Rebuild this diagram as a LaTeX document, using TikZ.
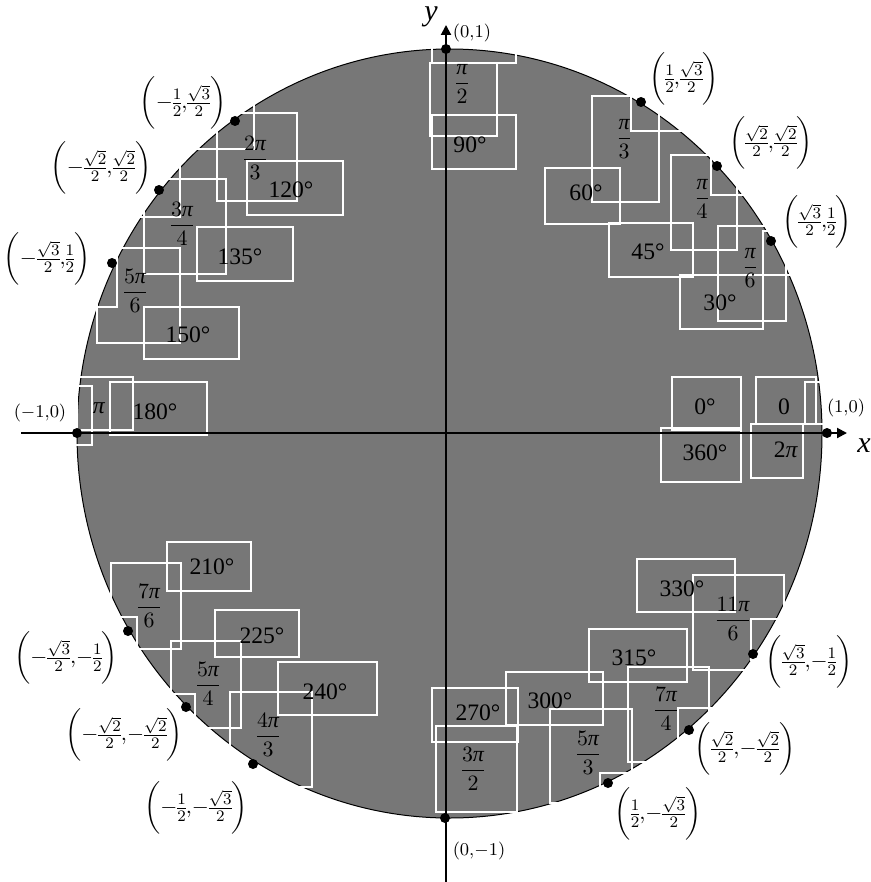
\documentclass[tikz,border=0pt]{standalone}
\usepackage{amsmath}
\usepackage{fontspec}
\setmainfont{Liberation Serif}
\usetikzlibrary{arrows.meta}
\definecolor{disk}{RGB}{119,119,119}
\newcommand\piit{\text{\itshape π}}
\newcommand\rfr[2]{$\dfrac{#1}{#2}$}
\newcommand\crd[2]{$\nulldelimiterspace=0pt\biggl(#1{,}#2\biggr)$}
\begin{document}
\begin{tikzpicture}[x=0.5pt,y=-0.5pt,
  bx/.style={draw=white,line width=0.6pt},
  dotn/.style={circle,fill=black,inner sep=0,minimum size=5pt},
  lb/.style={inner sep=0,font=\fontsize{11}{13}\selectfont},
  dg/.style={inner sep=0,font=\fontsize{11.8}{14}\selectfont},
  sm/.style={inner sep=0,font=\fontsize{9}{11}\selectfont},
  ax/.style={line width=1pt,-{Triangle[length=5pt,width=5pt]}},
  axl/.style={inner sep=0,font=\fontsize{15}{17}\selectfont\itshape}]
\useasboundingbox (0,0) rectangle (871,882);
\fill[disk] (449.5,433.5) ellipse [x radius=372.5, y radius=384.5];
\draw[line width=0.5pt] (449.5,433.5) ellipse [x radius=372.5, y radius=384.5];
% label boxes
% 90
\draw[bx] (432,30) rectangle (516,63);
\draw[bx] (430,63) rectangle (497,136);
\draw[bx] (432,115) rectangle (516,169);
% 60
\draw[bx] (631,96) rectangle (690,131);
\draw[bx] (592,96) rectangle (659,202);
\draw[bx] (545,168) rectangle (620,224);
% 45
\draw[bx] (711,155) rectangle (765,195);
\draw[bx] (671,155) rectangle (737,250);
\draw[bx] (609,223) rectangle (693,277);
% 30
\draw[bx] (763,231) rectangle (810,275);
\draw[bx] (718,226) rectangle (786,321);
\draw[bx] (680,275) rectangle (763,329);
% 0
\draw[bx] (805,382) rectangle (850,424);
\draw[bx] (756,377) rectangle (816,424);
\draw[bx] (672,377) rectangle (741,430);
\draw[bx] (661,428) rectangle (741,482);
\draw[bx] (751,424) rectangle (803,478);
% 180
\draw[bx] (75,386) rectangle (92,445);
\draw[bx] (77,377) rectangle (133,430);
\draw[bx] (110,382) rectangle (207,435);
% 150
\draw[bx] (70,230) rectangle (117,307);
\draw[bx] (97,248) rectangle (180,343);
\draw[bx] (144,307) rectangle (239,359);
% 135
\draw[bx] (130,165) rectangle (180,217);
\draw[bx] (144,179) rectangle (226,274);
\draw[bx] (197,227) rectangle (293,281);
% 120
\draw[bx] (195,100) rectangle (254,149);
\draw[bx] (217,113) rectangle (297,201);
\draw[bx] (247,161) rectangle (343,215);
% 210
\draw[bx] (90,617) rectangle (137,660);
\draw[bx] (111,563) rectangle (181,649);
\draw[bx] (167,542) rectangle (251,591);
% 225
\draw[bx] (150,694) rectangle (195,740);
\draw[bx] (171,641) rectangle (241,728);
\draw[bx] (215,610) rectangle (299,657);
% 240
\draw[bx] (230,692) rectangle (312,787);
\draw[bx] (278,662) rectangle (377,715);
% 270
\draw[bx] (432,688) rectangle (518,742);
\draw[bx] (436,726) rectangle (517,812);
% 300
\draw[bx] (506,672) rectangle (603,725);
\draw[bx] (550,709) rectangle (632,803);
\draw[bx] (600,773) rectangle (640,810);
% 315
\draw[bx] (589,629) rectangle (687,682);
\draw[bx] (628,667) rectangle (709,762);
\draw[bx] (678,708) rectangle (720,745);
% 330
\draw[bx] (637,559) rectangle (735,612);
\draw[bx] (693,575) rectangle (784,670);
\draw[bx] (751,619) rectangle (800,660);
% axes
\coordinate (xl) at (21,433);
\coordinate (xr) at (847,433);
\coordinate (yb) at (446,882);
\coordinate (yt) at (446,25);
\draw[ax] (xl) -- (xr);
\draw[ax] (yb) -- (yt);
\node[axl] (xlab) at (864,446) {x};
\node[axl] (ylab) at (431,17) {y};
% points
\node[dotn] (d0) at (827,433) {};
\node[dotn] (d30) at (771,241) {};
\node[dotn] (d45) at (717,166) {};
\node[dotn] (d60) at (641,102) {};
\node[dotn] (d90) at (446,49) {};
\node[dotn] (d120) at (235,121) {};
\node[dotn] (d135) at (159,190) {};
\node[dotn] (d150) at (112,263) {};
\node[dotn] (d180) at (77,433) {};
\node[dotn] (d210) at (128,631) {};
\node[dotn] (d225) at (186,707) {};
\node[dotn] (d240) at (253,764) {};
\node[dotn] (d270) at (445,818) {};
\node[dotn] (d300) at (608,783) {};
\node[dotn] (d315) at (689,730) {};
\node[dotn] (d330) at (753,654) {};
% coordinates
\node[sm] (c0) at (846,408) {$(1{,}0)$};
\node[lb] (c30) at (817,222) {\crd{\frac{\sqrt{3}}{2}}{\frac{1}{2}}};
\node[lb] (c45) at (771,143) {\crd{\frac{\sqrt{2}}{2}}{\frac{\sqrt{2}}{2}}};
\node[lb] (c60) at (684,79) {\crd{\frac{1}{2}}{\frac{\sqrt{3}}{2}}};
\node[sm] (c90) at (472,33) {$(0{,}1)$};
\node[lb] (c120) at (183,103) {\crd{{-}\frac{1}{2}}{\frac{\sqrt{3}}{2}}};
\node[lb] (c135) at (101,168) {\crd{{-}\frac{\sqrt{2}}{2}}{\frac{\sqrt{2}}{2}}};
\node[lb] (c150) at (47,259) {\crd{{-}\frac{\sqrt{3}}{2}}{\frac{1}{2}}};
\node[sm] (c180) at (40,413) {$({-}1{,}0)$};
\node[lb] (c210) at (66,658) {\crd{{-}\frac{\sqrt{3}}{2}}{{-}\frac{1}{2}}};
\node[lb] (c225) at (124,735) {\crd{{-}\frac{\sqrt{2}}{2}}{{-}\frac{\sqrt{2}}{2}}};
\node[lb] (c240) at (196,808) {\crd{{-}\frac{1}{2}}{{-}\frac{\sqrt{3}}{2}}};
\node[sm] (c270) at (479,851) {$(0{,}{-}1)$};
\node[lb] (c300) at (658,814) {\crd{\frac{1}{2}}{{-}\frac{\sqrt{3}}{2}}};
\node[lb] (c315) at (745,749) {\crd{\frac{\sqrt{2}}{2}}{{-}\frac{\sqrt{2}}{2}}};
\node[lb] (c330) at (809,662) {\crd{\frac{\sqrt{3}}{2}}{{-}\frac{1}{2}}};
% radians
\node[dg] (r0) at (784,407) {0};
\node[dg] (r360) at (786,450) {2\textit{π}};
\node[lb] (r30) at (750,268) {\rfr{\piit}{6}};
\node[lb] (r45) at (702,199) {\rfr{\piit}{4}};
\node[lb] (r60) at (624,139) {\rfr{\piit}{3}};
\node[lb] (r90) at (462,84) {\rfr{\piit}{2}};
\node[lb] (r120) at (255,158) {\rfr{2\piit}{3}};
\node[lb] (r135) at (182,224) {\rfr{3\piit}{4}};
\node[lb] (r150) at (135,291) {\rfr{5\piit}{6}};
\node[dg] (r180) at (99,408) {\textit{π}};
\node[lb] (r210) at (149,606) {\rfr{7\piit}{6}};
\node[lb] (r225) at (208,684) {\rfr{5\piit}{4}};
\node[lb] (r240) at (268,735) {\rfr{4\piit}{3}};
\node[lb] (r270) at (473,769) {\rfr{3\piit}{2}};
\node[lb] (r300) at (588,753) {\rfr{5\piit}{3}};
\node[lb] (r315) at (666,709) {\rfr{7\piit}{4}};
\node[lb] (r330) at (733,619) {\rfr{11\piit}{6}};
% degrees
\node[dg] (g0) at (705,407) {0°};
\node[dg] (g360) at (705,453) {360°};
\node[dg] (g30) at (720,303) {30°};
\node[dg] (g45) at (648,252) {45°};
\node[dg] (g60) at (586,193) {60°};
\node[dg] (g90) at (470,145) {90°};
\node[dg] (g120) at (291,190) {120°};
\node[dg] (g135) at (240,257) {135°};
\node[dg] (g150) at (188,335) {150°};
\node[dg] (g180) at (155,412) {180°};
\node[dg] (g210) at (212,567) {210°};
\node[dg] (g225) at (262,636) {225°};
\node[dg] (g240) at (325,692) {240°};
\node[dg] (g270) at (478,713) {270°};
\node[dg] (g300) at (550,701) {300°};
\node[dg] (g315) at (634,658) {315°};
\node[dg] (g330) at (682,589) {330°};
\end{tikzpicture}
\end{document}
